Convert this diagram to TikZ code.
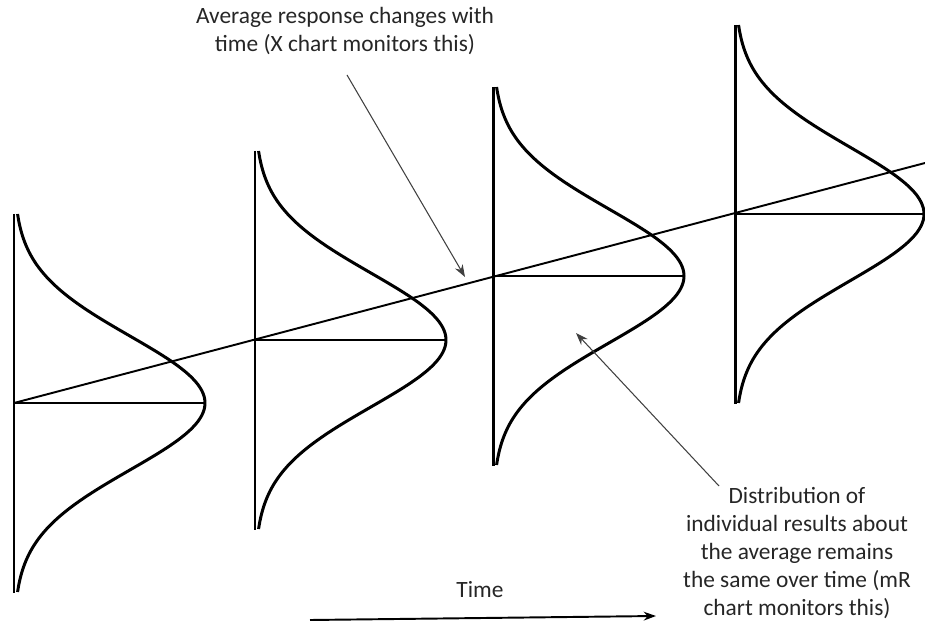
\documentclass[tikz,border=0pt]{standalone}
\usepackage{fontspec}
\setmainfont{Carlito}
\usepackage{tikz}
\usetikzlibrary{arrows.meta,positioning}

\begin{document}
\begin{tikzpicture}[x=0.02cm,y=-0.02cm,
  bell/.style={line width=1.7pt, line join=round},
  base/.style={line width=1.7pt},
  meanline/.style={line width=1.1pt},
  trend/.style={line width=1.1pt},
  note/.style={-{Stealth[length=7pt,width=5pt]}, line width=0.6pt, draw=black!75},
  timearr/.style={-{Stealth[length=7pt,width=5pt]}, line width=1.1pt},
  label/.style={align=center, font=\fontsize{13.3pt}{16pt}\selectfont, text=black!85, inner sep=0pt}
]
\useasboundingbox (0,0) rectangle (925,624);

\draw[trend] (14,403) -- (925,163);

\draw[base] (14,214) -- (14,593);
\draw[meanline] (14,403) -- (205,403);
\draw[bell, shift={(14,403)}] plot[smooth, domain=-189:189, samples=61] ({191*exp(-0.5*(\x/67)^2)}, \x);

\draw[base] (255,151) -- (255,530);
\draw[meanline] (255,340) -- (446,340);
\draw[bell, shift={(255,340)}] plot[smooth, domain=-189:189, samples=61] ({191*exp(-0.5*(\x/67)^2)}, \x);

\draw[base] (493,87) -- (493,466);
\draw[meanline] (493,276) -- (684,276);
\draw[bell, shift={(493,276)}] plot[smooth, domain=-189:189, samples=61] ({191*exp(-0.5*(\x/67)^2)}, \x);

\draw[base] (735,25) -- (735,404);
\draw[meanline] (735,214) -- (926,214);
\draw[bell, shift={(735,214)}] plot[smooth, domain=-189:189, samples=61] ({189*exp(-0.5*(\x/67)^2)}, \x);

\node[label] (avgtxt) at (345,31) {Average response changes with\\time (X chart monitors this)};
\node[label] (disttxt) at (797,553) {Distribution of\\individual results about\\the average remains\\the same over time (mR\\chart monitors this)};
\node[label] (timetxt) at (480,590) {Time};

\coordinate (avgtail) at (347,75);
\coordinate (avgtip) at (465,277);
\coordinate (disttail) at (719,486);
\coordinate (disttip) at (576,333);
\coordinate (timestart) at (310,620);
\coordinate (timeend) at (656,616);

\draw[note] (avgtail) -- (avgtip);
\draw[note] (disttail) -- (disttip);
\draw[timearr] (timestart) -- (timeend);
\end{tikzpicture}
\end{document}
